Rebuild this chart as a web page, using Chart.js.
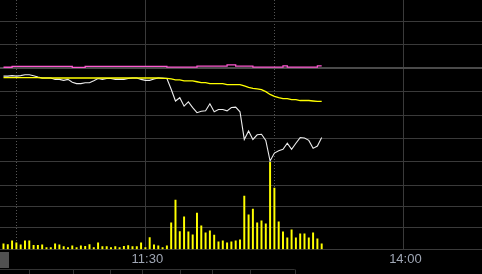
<!DOCTYPE html>
<html>
<head>
<meta charset="utf-8">
<script src="https://cdn.jsdelivr.net/npm/chart.js@4/dist/chart.umd.min.js"></script>
<style>
  html, body { margin: 0; padding: 0; background: #000; }
  canvas { display: block; background: #000; }
</style>
</head>
<body>
<canvas id="myChart" width="482" height="274"></canvas>
<script>
// one slot per minute, slot 0 = 10:57
const priceLine = [
  9.983, 9.983, 9.984, 9.983, 9.984, 9.986, 9.986, 9.984, 9.981, 9.979,
  9.979, 9.979, 9.976, 9.976, 9.974, 9.976, 9.970, 9.967, 9.967, 9.969,
  9.969, 9.973, 9.978, 9.976, 9.978, 9.978, 9.976, 9.976, 9.976, 9.978,
  9.979, 9.979, 9.976, 9.974, 9.974, 9.977, 9.979, 9.979, 9.978, 9.955,
  9.930, 9.937, 9.919, 9.928, 9.916, 9.905, 9.908, 9.909, 9.924, 9.907,
  9.912, 9.912, 9.909, 9.916, 9.917, 9.907, 9.848, 9.866, 9.848, 9.858,
  9.859, 9.846, 9.802, 9.819, 9.824, 9.827, 9.840, 9.827, 9.840, 9.852,
  9.851, 9.846, 9.829, 9.834, 9.852,
];

const avgLine = [
  9.980, 9.980, 9.980, 9.980, 9.980, 9.980, 9.980, 9.980, 9.980, 9.979,
  9.979, 9.979, 9.979, 9.979, 9.979, 9.979, 9.979, 9.979, 9.979, 9.979,
  9.979, 9.979, 9.979, 9.979, 9.979, 9.979, 9.979, 9.979, 9.979, 9.979,
  9.979, 9.979, 9.979, 9.979, 9.979, 9.979, 9.979, 9.978, 9.978, 9.977,
  9.975, 9.975, 9.973, 9.973, 9.973, 9.971, 9.969, 9.969, 9.967, 9.967,
  9.967, 9.967, 9.965, 9.965, 9.965, 9.965, 9.962, 9.959, 9.957, 9.956,
  9.954, 9.950, 9.944, 9.940, 9.937, 9.935, 9.935, 9.933, 9.933, 9.931,
  9.931, 9.931, 9.930, 9.929, 9.929,
];

const refLine = [
  10.0019, 10.0019, 10.0036, 10.0036, 10.0036, 10.0036, 10.0036, 10.0036, 10.0036, 10.0036,
  10.0036, 10.0036, 10.0036, 10.0036, 10.0036, 10.0036, 10.0017, 10.0017, 10.0017, 10.0036,
  10.0036, 10.0036, 10.0036, 10.0036, 10.0036, 10.0036, 10.0036, 10.0036, 10.0036, 10.0036,
  10.0036, 10.0036, 10.0036, 10.0036, 10.0036, 10.0036, 10.0036, 10.0036, 10.0023, 10.0023,
  10.0023, 10.0023, 10.0023, 10.0023, 10.0023, 10.0044, 10.0044, 10.0044, 10.0044, 10.0044,
  10.0044, 10.0044, 10.0068, 10.0068, 10.0044, 10.0044, 10.0044, 10.0044, 10.0021, 10.0021,
  10.0021, 10.0021, 10.0021, 10.0021, 10.0021, 10.0049, 10.0021, 10.0021, 10.0021, 10.0021,
  10.0021, 10.0021, 10.0021, 10.0049, 10.0049,
];

const volume = [
  520, 440, 800, 620, 430, 800, 800, 370, 370, 430,
  180, 160, 520, 430, 250, 180, 320, 180, 340, 280,
  440, 180, 620, 250, 250, 180, 250, 180, 280, 350,
  250, 250, 620, 180, 1090, 430, 330, 170, 340, 2460,
  4580, 1660, 3010, 1630, 1350, 3380, 2180, 1540, 1720, 1320,
  710, 800, 620, 710, 800, 890, 4950, 3200, 3750, 2460,
  2640, 2370, 8080, 5690, 2550, 1630, 1080, 1820, 1080, 1450,
  1450, 1080, 1540, 990, 520,
];

const prevClose = 10.0;
const priceTicks = [9.75, 9.8, 9.85, 9.9, 9.95, 10.0, 10.05, 10.1];
const volumeTicks = [0, 2000, 4000];
const timeSlots = [3, 33, 63, 93]; // 11:00, 11:30/13:00, 13:30, 14:00
const timeLabels = ["", "11:30", "", "14:00"];
const navMarks = [28.7, 72.7, 110.3, 142.3, 180.3, 212.3, 250.3, 294.7];

function toPoints(arr) {
  return arr.map((v, i) => ({ x: i, y: v }));
}

// bottom-left scroll box and navigator strip
const navPlugin = {
  id: "nav",
  afterDraw(chart) {
    const ctx = chart.ctx;
    ctx.save();
    ctx.fillStyle = "#505050";
    ctx.fillRect(0, 252, 9, 16);
    ctx.strokeStyle = "#333";
    ctx.lineWidth = 1;
    ctx.beginPath();
    ctx.moveTo(0, 269.5);
    ctx.lineTo(navMarks[navMarks.length - 1], 269.5);
    navMarks.forEach((m) => {
      ctx.moveTo(Math.round(m) + 0.5, 269.5);
      ctx.lineTo(Math.round(m) + 0.5, 274);
    });
    ctx.stroke();
    ctx.restore();
  },
};

let chart = new Chart("myChart", {
  data: {
    datasets: [
      {
        type: "line",
        data: toPoints(avgLine),
        borderColor: "#ffff00",
        borderWidth: 1.3,
        pointRadius: 0,
        tension: 0,
        yAxisID: "y",
        order: 0,
      },
      {
        type: "line",
        data: toPoints(refLine),
        borderColor: "#ff5ad2",
        borderWidth: 1.3,
        pointRadius: 0,
        stepped: true,
        yAxisID: "y",
        order: 1,
      },
      {
        type: "line",
        data: toPoints(priceLine),
        borderColor: "#ececec",
        borderWidth: 1.1,
        pointRadius: 0,
        tension: 0,
        yAxisID: "y",
        order: 2,
      },
      {
        type: "bar",
        data: toPoints(volume),
        backgroundColor: "#ffff00",
        barThickness: 1.3,
        yAxisID: "y1",
        order: 3,
      },
    ],
  },
  options: {
    responsive: false,
    animation: false,
    devicePixelRatio: 1,
    layout: { padding: { left: 0, right: 0, top: 0, bottom: 5 } },
    plugins: { legend: { display: false }, tooltip: { enabled: false } },
    scales: {
      x: {
        type: "linear",
        offset: false,
        min: -0.81,
        max: 111.28,
        afterBuildTicks: (axis) => {
          axis.ticks = timeSlots.map((v) => ({ value: v }));
        },
        ticks: {
          autoSkip: false,
          maxRotation: 0,
          padding: 2,
          labelOffset: 2,
          color: "#9fa6b4",
          font: { family: "Liberation Sans, Arial, sans-serif", size: 13 },
          callback: (value, index) => timeLabels[index],
        },
        grid: {
          offset: false,
          drawTicks: false,
          color: (c) => (c.index % 2 === 0 ? "#555" : "#3a3a3a"),
        },
        border: {
          display: false,
          dash: (c) => (c.index % 2 === 0 ? [1, 2] : []),
        },
      },
      y: {
        type: "linear",
        position: "right",
        min: 9.6136,
        max: 10.1453,
        afterBuildTicks: (axis) => {
          axis.ticks = priceTicks.map((v) => ({ value: v }));
        },
        ticks: { display: false },
        grid: {
          drawTicks: false,
          color: (c) => (Math.abs(c.tick.value - prevClose) < 1e-6 ? "#4a4a4a" : "#3a3a3a"),
          lineWidth: (c) => (Math.abs(c.tick.value - prevClose) < 1e-6 ? 2 : 1),
        },
        border: { display: false },
      },
      y1: {
        type: "linear",
        position: "right",
        min: 0,
        max: 23130,
        afterBuildTicks: (axis) => {
          axis.ticks = volumeTicks.map((v) => ({ value: v }));
        },
        ticks: { display: false },
        grid: { drawTicks: false, color: "#3a3a3a" },
        border: { display: false },
      },
    },
  },
  plugins: [navPlugin],
});
</script>
</body>
</html>
